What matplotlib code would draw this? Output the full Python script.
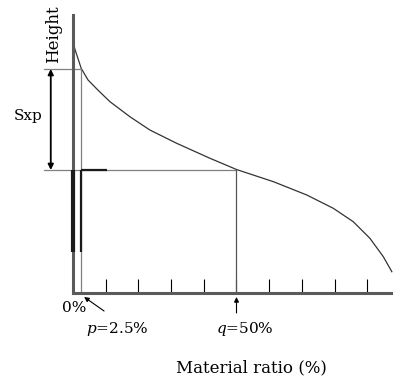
import matplotlib
matplotlib.use('Agg')
import matplotlib.pyplot as plt

# bearing (material ratio) curve
ratio = [0.2, 0.5, 1.5, 2.5, 4.6, 7.6, 11.3, 17.4, 23.5, 31.7, 41.9, 50.0,
         61.3, 71.5, 79.6, 85.7, 90.8, 94.9, 97.5]
height = [252, 244.7, 234.7, 224.7, 213, 203, 191.3, 176.3, 163, 149.7, 134.7, 123.5,
          111.3, 98, 84.7, 71.3, 54.7, 36.3, 21.3]

p_ratio, q_ratio = 2.5, 50
p_height, q_height = 224, 123
ticks = [10, 20, 30, 40, 50, 60, 70, 80, 90]

plt.rcParams['font.family'] = ['DejaVu Serif']
plt.rcParams['mathtext.fontset'] = 'dejavuserif'

fig = plt.figure(figsize=(3.93, 3.85), dpi=100)
ax = fig.add_axes([73/393, 92/385, 320/393, 278/385])
ax.set_xlim(0, 97.86)
ax.set_ylim(0, 278)

axis_gray = '#5a5a5a'
line_gray = '#808080'
for s in ['top', 'right']:
    ax.spines[s].set_visible(False)
for s in ['left', 'bottom']:
    ax.spines[s].set_color(axis_gray)
    ax.spines[s].set_linewidth(2.2)
ax.set_xticks(ticks)
ax.set_xticklabels([])
ax.set_yticks([])
ax.tick_params(axis='x', direction='in', length=10, width=0.8, color='black')

ax.plot(ratio, height, color='#333333', lw=0.9, clip_on=False)

# guide lines
ax.plot([-8.9, p_ratio], [p_height, p_height], color=line_gray, lw=0.9, clip_on=False)
ax.plot([-8.9, q_ratio], [q_height, q_height], color=line_gray, lw=0.9, clip_on=False)
ax.plot([p_ratio, p_ratio], [0, p_height], color=line_gray, lw=0.9, clip_on=False)
ax.plot([q_ratio, q_ratio], [0, q_height], color='#555555', lw=0.9, clip_on=False)

# black overlays
ax.plot([0, 0], [41, q_height], color='#1a1a1a', lw=3.0, solid_capstyle='butt',
        zorder=4, clip_on=False)
ax.plot([p_ratio, p_ratio], [41, q_height], color='#1a1a1a', lw=1.6, solid_capstyle='butt',
        zorder=4)
ax.plot([p_ratio, 10.4], [q_height, q_height], color='#1a1a1a', lw=1.6, solid_capstyle='butt',
        zorder=4)

# Sxp double arrow
ax.annotate('', xy=(-6.8, q_height), xytext=(-6.8, p_height),
            arrowprops=dict(arrowstyle='<|-|>', color='black', lw=1.3,
                            mutation_scale=8, shrinkA=0, shrinkB=0),
            annotation_clip=False)
ax.text(-13.8, 173, 'Sxp', fontsize=11, ha='center', va='baseline')
ax.text(-6.1, 259, 'Height', fontsize=12, rotation=90, ha='center', va='center')

# bottom labels
ax.text(0.3, -15.5, '0%', fontsize=11, ha='center', va='center')
ax.text(13.5, -36, '$p$=2.5%', fontsize=11, ha='center', va='center')
ax.text(52.6, -36, '$q$=50%', fontsize=11, ha='center', va='center')
ax.annotate('', xy=(3.4, -4), xytext=(9.5, -18),
            arrowprops=dict(arrowstyle='-|>', color='black', lw=0.8,
                            mutation_scale=7, shrinkA=0, shrinkB=0),
            annotation_clip=False)
ax.annotate('', xy=(q_ratio, -4), xytext=(q_ratio, -20),
            arrowprops=dict(arrowstyle='-|>', color='black', lw=0.8,
                            mutation_scale=7, shrinkA=0, shrinkB=0),
            annotation_clip=False)
ax.text(54.6, -75, 'Material ratio (%)', fontsize=12, ha='center', va='center')

fig.savefig('out.png', dpi=100)
